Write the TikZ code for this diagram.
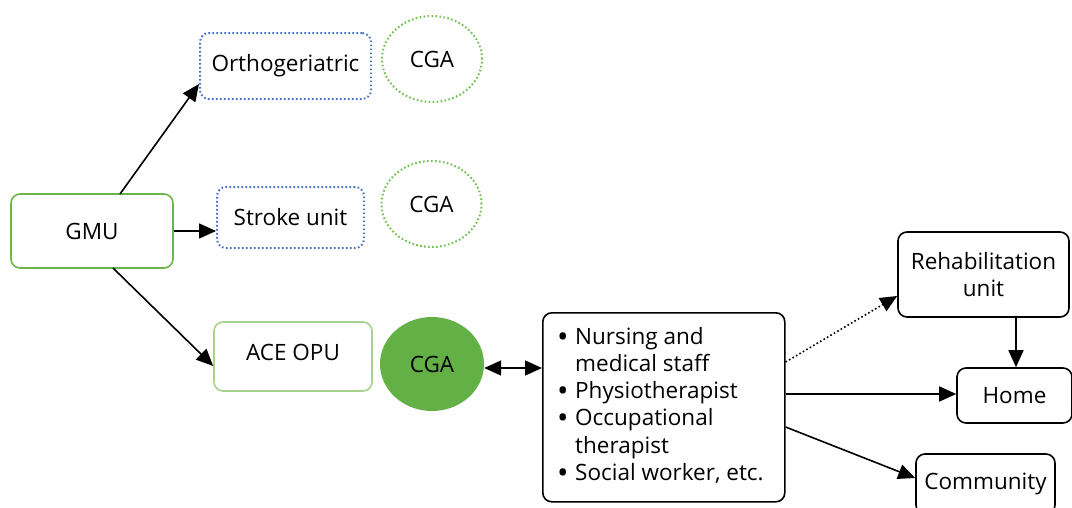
\documentclass[tikz,border=0pt]{standalone}
\usepackage{fontspec}
\setmainfont{Open Sans}
\usetikzlibrary{arrows.meta,shapes.geometric}
\definecolor{gmugreen}{HTML}{6AB547}
\definecolor{lightgreen}{HTML}{A9D18E}
\definecolor{fillgreen}{HTML}{63B146}
\definecolor{dotblue}{HTML}{4472C4}
\definecolor{dotgreen}{HTML}{70BF50}
\newcommand{\mybul}{\makebox[18pt][l]{\raisebox{-0.12em}{\scalebox{1.35}{\textbullet}}}}
\begin{document}
\begin{tikzpicture}[x=1pt,y=-1pt,
  font=\fontsize{22.5}{27.2}\selectfont,
  box/.style={draw, rounded corners=9pt, line width=1.6pt, align=center, inner sep=0pt},
  bluebox/.style={box, draw=dotblue, line width=2pt, dash pattern=on 1.6pt off 2.4pt},
  dotell/.style={ellipse, draw=dotgreen, line width=2pt, dash pattern=on 1.6pt off 2.4pt, minimum width=100pt, minimum height=86pt, inner sep=0pt},
  arr/.style={line width=1.6pt, -{Triangle[length=17pt,width=15pt]}},
]
\useasboundingbox (0,0) rectangle (1072,507);
\node[box, draw=gmugreen, minimum width=162pt, minimum height=74pt] (gmu) at (92,231) {GMU};
\node[bluebox, minimum width=171pt, minimum height=66pt] (ortho) at (285.5,66) {Orthogeriatric};
\node[dotell] (cga1) at (432,59) {CGA};
\node[bluebox, minimum width=147pt, minimum height=61pt] (stroke) at (290.5,217.5) {Stroke unit};
\node[dotell] (cga2) at (431.5,204) {CGA};
\node[box, draw=lightgreen, minimum width=158pt, minimum height=69pt] (ace) at (293,356.5) {\raisebox{8pt}{ACE OPU}};
\node[ellipse, fill=fillgreen, minimum width=104pt, minimum height=94pt, inner sep=0pt] (cga3) at (432,364) {CGA};
\node[box, minimum width=242pt, minimum height=189pt, align=left, anchor=north west] (staff) at (542,312) {};
\node[anchor=north west, align=left, inner sep=0pt] (stafftext) at (557,327) {%
\mybul Nursing and\\
\hspace{18pt}medical staff\\
\mybul Physiotherapist\\
\mybul Occupational\\
\hspace{18pt}therapist\\
\mybul Social worker, etc.};
\node[box, minimum width=171pt, minimum height=85pt] (rehab) at (983.5,274.5) {Rehabilitation\\unit};
\node[box, minimum width=115pt, minimum height=55pt] (home) at (1014.5,395.5) {Home};
\node[box, minimum width=139pt, minimum height=60pt] (comm) at (985.5,484) {Community};

\coordinate (gmuT) at (120,194);
\coordinate (gmuB) at (113,268);
\draw[arr] (gmuT) -- (ortho.south west |- 0,84);
\draw[arr] (gmu.east) -- (stroke.west |- gmu.east);
\draw[arr] (gmuB) -- (ace.west |- 0,366);
\draw[line width=1.6pt, {Triangle[length=17pt,width=15pt]}-{Triangle[length=17pt,width=15pt]}] (cga3.east |- 0,368) -- (staff.west |- 0,368);
\draw[arr, dash pattern=on 1.6pt off 2.4pt] (staff.east |- 0,362) -- (rehab.west |- 0,296);
\draw[arr] (staff.east |- 0,394) -- (home.west |- 0,394);
\draw[arr] (staff.east |- 0,427) -- (comm.west |- 0,478);
\draw[arr] (rehab.south -| 1016,0) -- (home.north -| 1016,0);
\end{tikzpicture}
\end{document}
